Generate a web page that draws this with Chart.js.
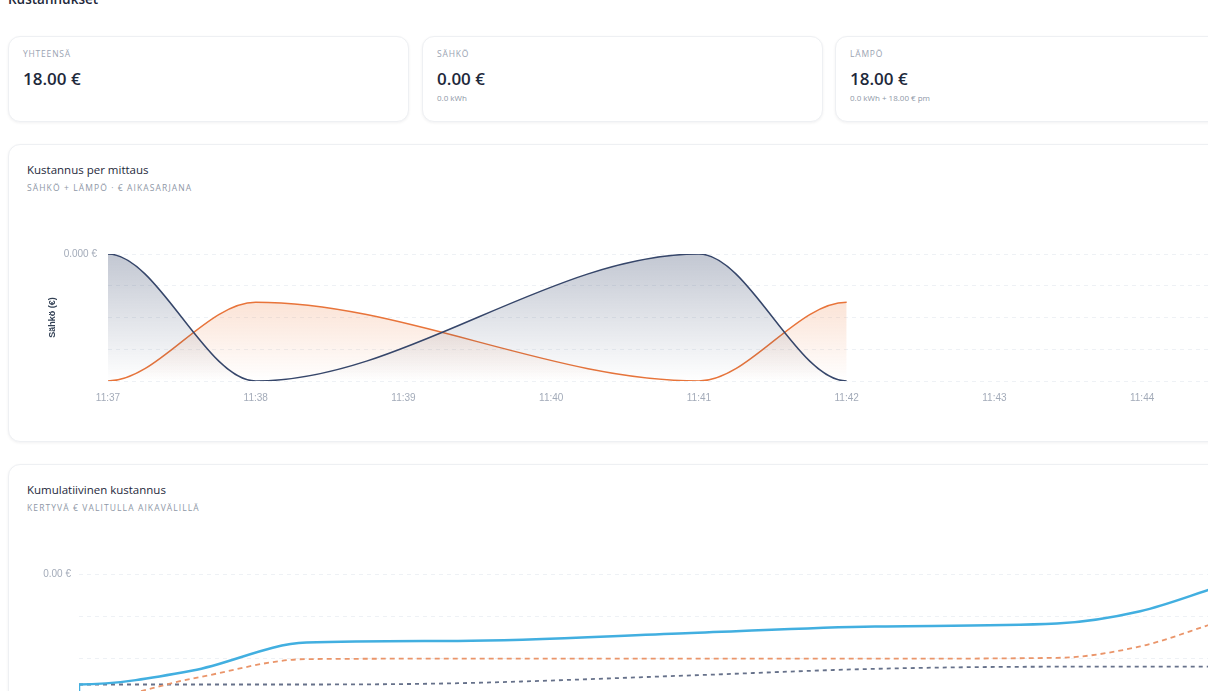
<!DOCTYPE html>
<html lang="fi">
<head>
<meta charset="UTF-8">
<title>Kustannukset</title>
<script src="https://cdn.jsdelivr.net/npm/chart.js"></script>
<style>
  html, body { margin: 0; padding: 0; background: #fff; overflow: hidden; width: 1208px; height: 691px; }
  body { font-family: "Open Sans", "Noto Sans", sans-serif; color: #1e293b; position: relative; }
  .page { position: absolute; left: 8px; top: 0; width: 1228px; }
  h1 { position: absolute; left: 0; top: -10px; margin: 0; font-size: 13.5px; font-weight: 600; line-height: 18px; }
  .card { position: absolute; background: #fff; border: 1px solid #eef0f3; border-radius: 12px; box-shadow: 0 1px 3px rgba(15,23,42,0.06); box-sizing: border-box; }
  .kpi { top: 36px; height: 86px; width: 401px; padding: 11px 14px; }
  .kpi .label { font-size: 8.5px; letter-spacing: 0.8px; color: #9aa3b2; line-height: 12px; }
  .kpi .value { font-size: 17px; font-weight: 600; color: #1e293b; margin-top: 8px; line-height: 22px; }
  .kpi .sub { font-size: 8px; color: #8e97a6; margin-top: 2px; line-height: 12px; }
  .panel { left: 0; width: 1228px; height: 298px; }
  .panel .title { position: absolute; left: 18px; top: 17px; font-size: 11.5px; font-weight: 500; line-height: 16px; color: #1e293b; }
  .panel .subtitle { position: absolute; left: 18px; top: 37px; font-size: 8.5px; letter-spacing: 1.1px; color: #8e97a6; line-height: 12px; }
  .panel .wrap { position: absolute; left: 18px; top: 86px; width: 1192px; height: 190px; }
</style>
</head>
<body>
<div class="page">
  <h1>Kustannukset</h1>

  <div class="card kpi" style="left:0">
    <div class="label">YHTEENSÄ</div>
    <div class="value">18.00 €</div>
  </div>
  <div class="card kpi" style="left:414px">
    <div class="label">SÄHKÖ</div>
    <div class="value">0.00 €</div>
    <div class="sub">0.0 kWh</div>
  </div>
  <div class="card kpi" style="left:827px">
    <div class="label">LÄMPÖ</div>
    <div class="value">18.00 €</div>
    <div class="sub">0.0 kWh + 18.00 € pm</div>
  </div>

  <div class="card panel" style="top:144px">
    <div class="title">Kustannus per mittaus</div>
    <div class="subtitle">SÄHKÖ + LÄMPÖ · € AIKASARJANA</div>
    <div class="wrap"><canvas id="perMittaus"></canvas></div>
  </div>

  <div class="card panel" style="top:464px">
    <div class="title">Kumulatiivinen kustannus</div>
    <div class="subtitle">KERTYVÄ € VALITULLA AIKAVÄLILLÄ</div>
    <div class="wrap"><canvas id="kumulatiivinen"></canvas></div>
  </div>
</div>

<script>
// tick labels (minutes from 11:37)
const minuteLabels = ['11:37', '11:38', '11:39', '11:40', '11:41', '11:42', '11:43', '11:44'];

// kustannus per mittaus
const mittausMinutes = [0, 1, 4, 5];
const sahkoCost = [0.0004, 0, 0.0004, 0];
const lampoCost = [0, 6.2, 0, 6.2];

// kumulatiivinen (values in €)
const kumMinutes = [0, 0, 0.75, 1.5, 2.5, 4.0, 5.25, 6.45, 7.0, 7.5];
const kumYhteensa = [0, 0.00039, 0.00072, 0.00138, 0.00142, 0.00160, 0.00176, 0.00183, 0.00212, 0.00268];
const kumLampo = [0, 0, 0.00053, 0.00099, 0.00100, 0.00100, 0.00100, 0.00102, 0.00129, 0.00185];
const kumSahko = [0.00039, 0.00039, 0.00039, 0.00039, 0.00042, 0.00060, 0.00076, 0.00081, 0.00081, 0.00081];

const navy = '#36466a';
const orange = '#e8743a';
const blue = '#42afe0';

function pts(xs, ys) {
  return xs.map((x, i) => ({ x: x, y: ys[i] }));
}

function fade(rgb, alpha) {
  return (ctx) => {
    const area = ctx.chart.chartArea;
    if (!area) return 'transparent';
    const g = ctx.chart.ctx.createLinearGradient(0, area.top, 0, area.bottom);
    g.addColorStop(0, 'rgba(' + rgb + ',' + alpha + ')');
    g.addColorStop(1, 'rgba(' + rgb + ',0)');
    return g;
  };
}

// monotone curve, but leave the first point and reach the last point level
const flatEnds = {
  id: 'flatEnds',
  beforeDatasetsDraw(chart) {
    chart.getSortedVisibleDatasetMetas().forEach(meta => {
      const line = meta.dataset;
      line.updateControlPoints(chart.chartArea, 'x');
      const p = line.points;
      if (!p.length) return;
      p[0].cp2y = p[0].y;
      p[p.length - 1].cp1y = p[p.length - 1].y;
    });
  }
};

const tickFont = { size: 10 };
const tickColor = '#a3abb9';
const gridColor = '#eef1f5';

function minuteTick(v) {
  return Number.isInteger(v) ? minuteLabels[v] : '';
}

new Chart(document.getElementById('perMittaus'), {
  type: 'line',
  plugins: [flatEnds],
  data: {
    datasets: [
      {
        label: 'Sähkö',
        data: pts(mittausMinutes, sahkoCost),
        borderColor: navy,
        borderWidth: 1.5,
        backgroundColor: fade('54,70,106', 0.3),
        fill: 'origin',
        pointRadius: 0,
        cubicInterpolationMode: 'monotone',
        yAxisID: 'y'
      },
      {
        label: 'Lämpö',
        data: pts(mittausMinutes, lampoCost),
        borderColor: orange,
        borderWidth: 1.5,
        backgroundColor: fade('236,125,64', 0.34),
        fill: 'origin',
        pointRadius: 0,
        cubicInterpolationMode: 'monotone',
        yAxisID: 'y1'
      }
    ]
  },
  options: {
    responsive: true,
    maintainAspectRatio: false,
    animation: false,
    layout: { padding: { top: 23, bottom: 14, left: 0, right: 0 } },
    plugins: { legend: { display: false }, tooltip: { enabled: false } },
    scales: {
      x: {
        type: 'linear',
        min: 0,
        max: 7.5,
        grid: { display: false },
        border: { display: false },
        ticks: { stepSize: 1, color: tickColor, font: tickFont, padding: 3, maxRotation: 0, callback: minuteTick }
      },
      y: {
        min: 0,
        max: 0.0004,
        afterFit: (axis) => { axis.width = 81; },
        grid: { color: gridColor, drawTicks: false },
        border: { display: false, dash: [4, 4] },
        title: { display: true, text: 'Sähkö (€)', color: '#334155', font: { size: 9, weight: 'bold' }, padding: { top: 20, bottom: 4 } },
        ticks: {
          stepSize: 0.0001,
          color: tickColor,
          font: tickFont,
          padding: 11,
          callback: (v, i, ticks) => i === ticks.length - 1 ? v.toFixed(3) + ' €' : ''
        }
      },
      y1: { display: false, min: 0, max: 10 }
    }
  }
});

new Chart(document.getElementById('kumulatiivinen'), {
  type: 'line',
  data: {
    datasets: [
      {
        label: 'Yhteensä',
        data: pts(kumMinutes, kumYhteensa),
        borderColor: blue,
        borderWidth: 2.5,
        pointRadius: 0,
        fill: false,
        cubicInterpolationMode: 'monotone'
      },
      {
        label: 'Lämpö',
        data: pts(kumMinutes, kumLampo),
        borderColor: '#ea956a',
        borderWidth: 1.8,
        borderDash: [5, 4],
        pointRadius: 0,
        fill: false,
        cubicInterpolationMode: 'monotone'
      },
      {
        label: 'Sähkö',
        data: pts(kumMinutes, kumSahko),
        borderColor: '#66718a',
        borderWidth: 1.8,
        borderDash: [4, 4],
        pointRadius: 0,
        fill: false,
        cubicInterpolationMode: 'monotone'
      }
    ]
  },
  options: {
    responsive: true,
    maintainAspectRatio: false,
    animation: false,
    layout: { padding: { top: 23, bottom: 14, left: 0, right: 0 } },
    plugins: { legend: { display: false }, tooltip: { enabled: false } },
    scales: {
      x: {
        type: 'linear',
        min: 0,
        max: 7.5,
        grid: { display: false },
        border: { display: false },
        ticks: { stepSize: 1, color: tickColor, font: tickFont, padding: 3, maxRotation: 0, callback: minuteTick }
      },
      y: {
        min: 0,
        max: 0.003,
        afterFit: (axis) => { axis.width = 52; },
        grid: { color: gridColor, drawTicks: false },
        border: { display: false, dash: [4, 4] },
        ticks: {
          stepSize: 0.001,
          color: tickColor,
          font: tickFont,
          padding: 8,
          callback: (v, i, ticks) => i === ticks.length - 1 ? v.toFixed(2) + ' €' : ''
        }
      }
    }
  }
});
</script>
</body>
</html>
